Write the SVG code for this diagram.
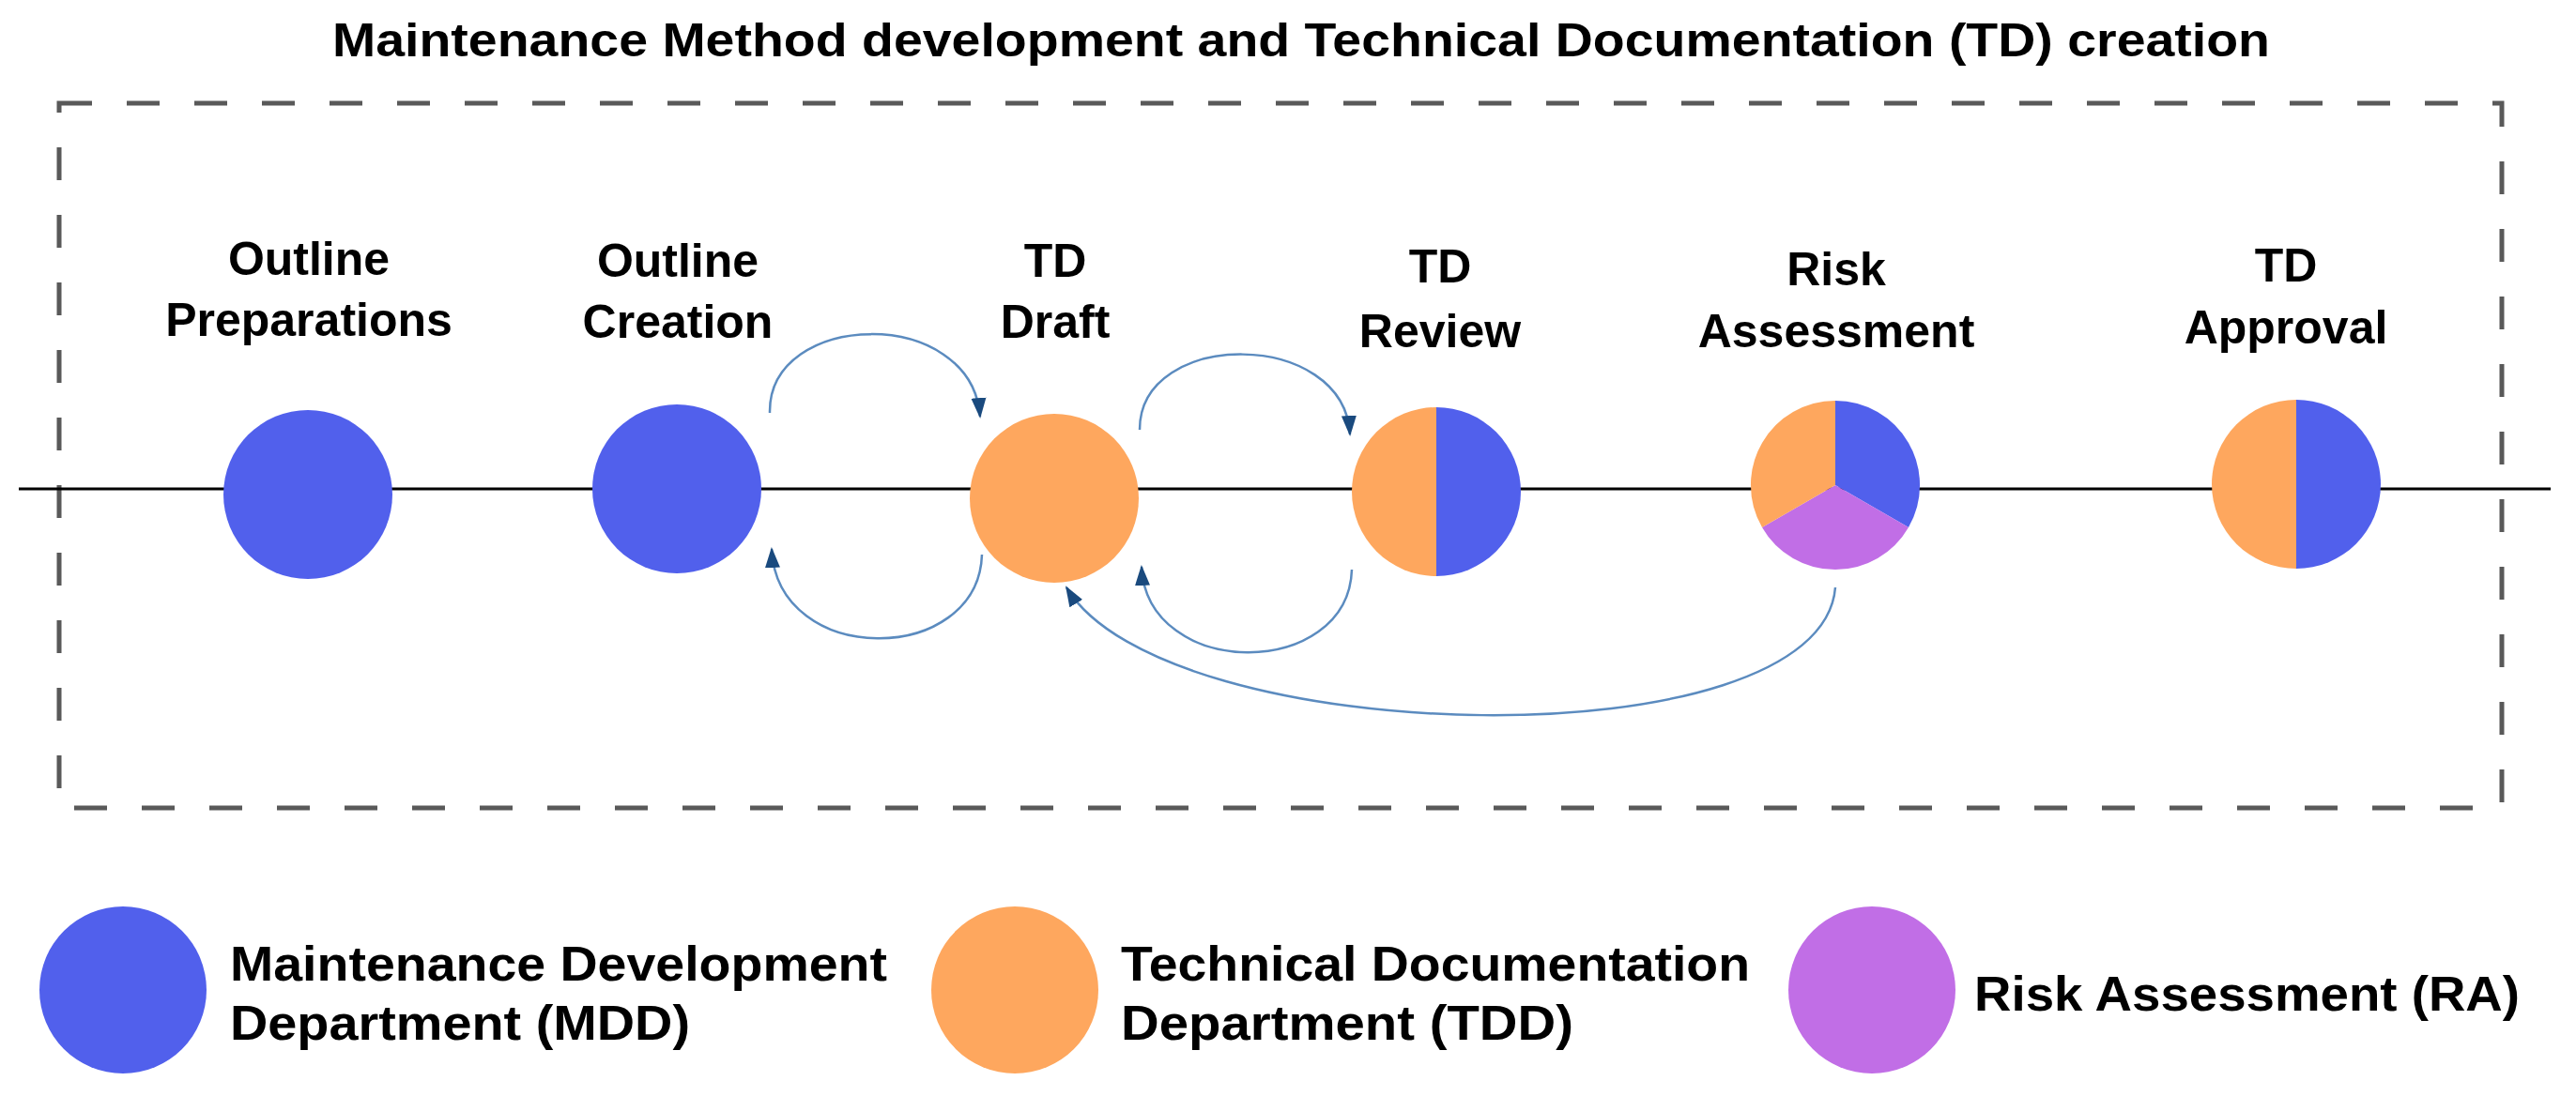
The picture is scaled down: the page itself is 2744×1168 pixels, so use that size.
<svg xmlns="http://www.w3.org/2000/svg" width="2744" height="1168" viewBox="0 0 2744 1168">
<style>
text{font-family:"Liberation Sans",Arial,sans-serif;font-weight:bold;fill:#000}
.lbl{font-size:50px;text-anchor:middle}
.leg{font-size:52px}
.b{fill:#5160ec}.o{fill:#fea75e}.p{fill:#c16ee6}
.arc{fill:none;stroke:#5b8bbf;stroke-width:2.5;marker-end:url(#ah)}
</style>
<defs>
<marker id="ah" markerUnits="userSpaceOnUse" markerWidth="24" markerHeight="20" refX="20" refY="10" orient="auto">
<path d="M0,2 L22,10 L0,18 Z" fill="#1a4a7e"/>
</marker>
</defs>
<rect width="2744" height="1168" fill="#fff"/>
<text x="354" y="60" style="font-size:50px" textLength="2064" lengthAdjust="spacingAndGlyphs">Maintenance Method development and Technical Documentation (TD) creation</text>
<rect x="63" y="110" width="2602" height="751" fill="none" stroke="#595959" stroke-width="5" stroke-dasharray="35 37"/>
<line x1="20" y1="521" x2="2717" y2="521" stroke="#000" stroke-width="3"/>
<g id="n1"><circle class="b" cx="328" cy="527" r="90"/><text class="lbl" x="329" y="293">Outline</text><text class="lbl" x="329" y="358">Preparations</text></g>
<g id="n2"><circle class="b" cx="721" cy="521" r="90"/><text class="lbl" x="722" y="295">Outline</text><text class="lbl" x="722" y="360">Creation</text></g>
<g id="n3"><circle class="o" cx="1123" cy="531" r="90"/><text class="lbl" x="1124" y="295">TD</text><text class="lbl" x="1124" y="360">Draft</text></g>
<g id="n4"><path class="o" d="M1530,434 A90,90 0 0 0 1530,614 Z"/><path class="b" d="M1530,434 A90,90 0 0 1 1530,614 Z"/><text class="lbl" x="1534" y="301">TD</text><text class="lbl" x="1534" y="370">Review</text></g>
<g id="n5"><path class="b" d="M1955,517 L1955,427 A90,90 0 0 1 2033,562 Z"/><path class="p" d="M1955,517 L2033,562 A90,90 0 0 1 1877,562 Z"/><path class="o" d="M1955,517 L1877,562 A90,90 0 0 1 1955,427 Z"/><text class="lbl" x="1956" y="304">Risk</text><text class="lbl" x="1956" y="370">Assessment</text></g>
<g id="n6"><path class="o" d="M2446,426 A90,90 0 0 0 2446,606 Z"/><path class="b" d="M2446,426 A90,90 0 0 1 2446,606 Z"/><text class="lbl" x="2435" y="300">TD</text><text class="lbl" x="2435" y="366">Approval</text></g>
<g id="connectors">
<path class="arc" d="M820,440 C818,330 1035,325 1044,444"/>
<path class="arc" d="M1046,591 C1042,710 828,712 822,585"/>
<path class="arc" d="M1214,458 C1214,350 1432,350 1438,463"/>
<path class="arc" d="M1440,607 C1436,725 1222,725 1216,604"/>
<path class="arc" d="M1955,626 C1940,815 1240,800 1136,626"/>
</g>
<g id="legend">
<g id="leg-mdd"><circle class="b" cx="131" cy="1055" r="89"/><text class="leg" x="245" y="1045" textLength="700" lengthAdjust="spacingAndGlyphs">Maintenance Development</text><text class="leg" x="245" y="1108" textLength="490" lengthAdjust="spacingAndGlyphs">Department (MDD)</text></g>
<g id="leg-tdd"><circle class="o" cx="1081" cy="1055" r="89"/><text class="leg" x="1194" y="1045" textLength="670" lengthAdjust="spacingAndGlyphs">Technical Documentation</text><text class="leg" x="1194" y="1108" textLength="482" lengthAdjust="spacingAndGlyphs">Department (TDD)</text></g>
<g id="leg-ra"><circle class="p" cx="1994" cy="1055" r="89"/><text class="leg" x="2103" y="1077" textLength="581" lengthAdjust="spacingAndGlyphs">Risk Assessment (RA)</text></g>
</g>
</svg>
